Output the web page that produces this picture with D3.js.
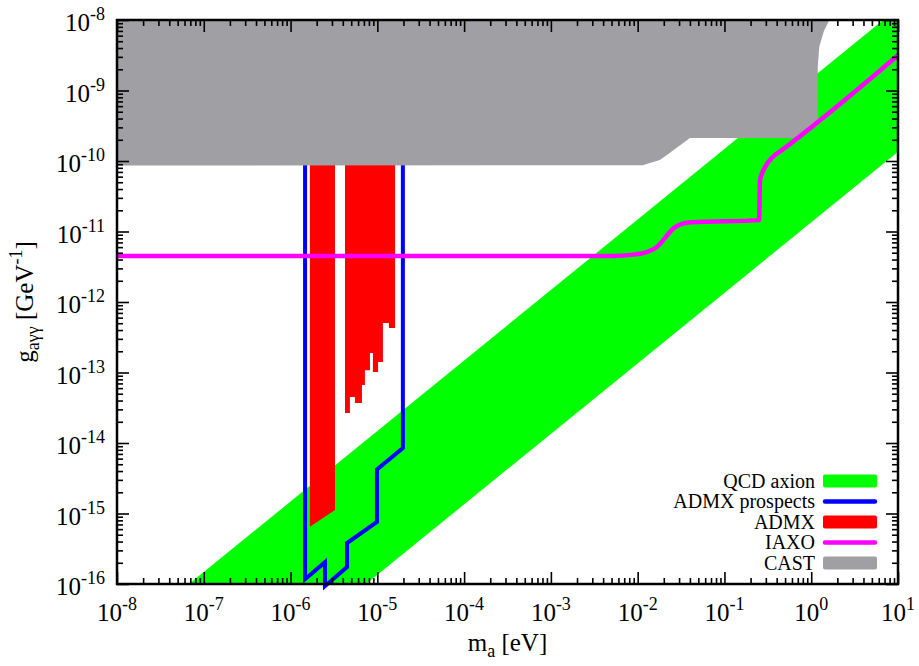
<!DOCTYPE html>
<html>
<head>
<meta charset="utf-8">
<script src="https://cdn.jsdelivr.net/npm/d3@7"></script>
<style>
  body { margin: 0; background: #fff; }
  svg { display: block; }
  text { font-family: "Liberation Serif", "Times New Roman", serif; fill: #000; }
</style>
</head>
<body>
<svg id="chart" width="919" height="666"></svg>
<script>
// ---- axion parameter space: mass m_a [eV] vs coupling g_aγγ [GeV^-1] ----

// Tick decades (exponents of 10)
const xTickExponents = [-8, -7, -6, -5, -4, -3, -2, -1, 0, 1];
const yTickExponents = [-16, -15, -14, -13, -12, -11, -10, -9, -8];

// QCD axion band: straight lines in log-log (g proportional to m)
const qcdMass = [1e-8, 10];
const qcdLow  = [1.35e-19, 1.35e-10];
const qcdHigh = [1.48e-17, 1.48e-8];

// CAST exclusion outline (mass, coupling), closed along the top of the frame
const castMass = [1e-8, 1.15e-2, 1.38e-2, 1.8e-2, 2.17e-2, 4.0e-2, 0.685, 1.19, 1.19, 1.24, 1.4, 1.62, 1e-8];
const castG    = [8.6e-11, 8.7e-11, 9.4e-11, 1.03e-10, 1.22e-10, 2.12e-10, 2.12e-10, 3.68e-10, 2.2e-9, 4.2e-9, 7.0e-9, 1e-8, 1e-8];

// ADMX exclusion, low-mass band (bottom edge sloped)
const admx1Mass = [1.67e-6, 1.67e-6, 3.25e-6, 3.25e-6];
const admx1G    = [1e-9, 6.5e-16, 1.12e-15, 1e-9];

// ADMX exclusion, higher-mass band: step edges and the limit in each step
const admx2Edges = [4.24e-6, 4.83e-6, 5.52e-6, 6.65e-6, 7.19e-6, 8.22e-6, 8.89e-6, 1.02e-5, 1.16e-5, 1.36e-5, 1.6e-5];
const admx2Limit = [2.67e-14, 4.49e-14, 3.69e-14, 6.65e-14, 1.08e-13, 1.89e-13, 1.02e-13, 1.41e-13, 5.04e-13, 4.28e-13];
const admx2Top = 1e-9;

// ADMX prospects outline
const prospectMass = [1.47e-6, 1.47e-6, 2.49e-6, 2.49e-6, 4.47e-6, 4.47e-6, 9.9e-6, 9.9e-6, 1.97e-5, 1.97e-5];
const prospectG    = [1e-9, 1.17e-16, 2.04e-16, 9.3e-17, 1.74e-16, 3.8e-16, 7.6e-16, 4.2e-15, 8.5e-15, 1e-9];

// IAXO sensitivity curve
const iaxoMass = [1e-8, 5e-3, 8.9e-3, 1.26e-2, 1.58e-2, 2.7e-2, 3.3e-2, 4.2e-2, 0.251, 0.257, 0.292, 0.363, 0.468, 10];
const iaxoG    = [4.5e-12, 4.5e-12, 4.7e-12, 5.1e-12, 5.75e-12, 1.15e-11, 1.29e-11, 1.35e-11, 1.45e-11, 5.4e-11, 8.1e-11, 1.15e-10, 1.45e-10, 3.16e-9];

// Legend entries
const legendLabels = ["QCD axion", "ADMX prospects", "ADMX", "IAXO", "CAST"];
const legendKinds  = ["fill", "line", "fill", "line", "fill"];

const colors = {
  qcd: "#00ff00",
  prospects: "#0000ff",
  admx: "#ff0000",
  iaxo: "#ff00ff",
  cast: "#a09fa4"
};
const legendColors = [colors.qcd, colors.prospects, colors.admx, colors.iaxo, colors.cast];

// ---- layout ----
const plot = { left: 117, right: 898, top: 20, bottom: 584 };

const svg = d3.select("#chart");
const x = d3.scaleLog().domain([1e-8, 10]).range([plot.left, plot.right]);
const y = d3.scaleLog().domain([1e-16, 1e-8]).range([plot.bottom, plot.top]);

svg.append("defs").append("clipPath").attr("id", "plotClip")
  .append("rect")
  .attr("x", plot.left).attr("y", plot.top)
  .attr("width", plot.right - plot.left).attr("height", plot.bottom - plot.top);

// drawing layers, bottom to top
const layerBand = svg.append("g").attr("clip-path", "url(#plotClip)");
const layerAdmx = svg.append("g").attr("clip-path", "url(#plotClip)");
const layerProspects = svg.append("g");
const layerCast = svg.append("g").attr("clip-path", "url(#plotClip)");
const layerIaxo = svg.append("g").attr("clip-path", "url(#plotClip)");
const layerAxes = svg.append("g");

const zip = (ms, gs) => ms.map((m, i) => [x(m), y(gs[i])]);
const poly = d3.line();

// QCD band
const bandPts = zip(qcdMass, qcdHigh).concat(zip(qcdMass, qcdLow).reverse());
layerBand.append("path").attr("d", poly(bandPts) + "Z").attr("fill", colors.qcd);

// ADMX bands
layerAdmx.append("path").attr("d", poly(zip(admx1Mass, admx1G)) + "Z").attr("fill", colors.admx);
const stepPts = [[x(admx2Edges[0]), y(admx2Top)]];
admx2Limit.forEach((g, i) => {
  stepPts.push([x(admx2Edges[i]), y(g)]);
  stepPts.push([x(admx2Edges[i + 1]), y(g)]);
});
stepPts.push([x(admx2Edges[admx2Edges.length - 1]), y(admx2Top)]);
layerAdmx.append("path").attr("d", poly(stepPts) + "Z").attr("fill", colors.admx);

// ADMX prospects outline
layerProspects.append("path")
  .attr("d", poly(zip(prospectMass, prospectG)))
  .attr("fill", "none").attr("stroke", colors.prospects)
  .attr("stroke-width", 4).attr("stroke-linejoin", "miter");

// CAST exclusion
layerCast.append("path").attr("d", poly(zip(castMass, castG)) + "Z").attr("fill", colors.cast);

// IAXO curve
layerIaxo.append("path")
  .attr("d", d3.line().curve(d3.curveMonotoneX)(zip(iaxoMass, iaxoG)))
  .attr("fill", "none").attr("stroke", colors.iaxo).attr("stroke-width", 4.5);

// ---- axes: inward ticks on all four sides ----
const xMajor = xTickExponents.map(e => Math.pow(10, e));
const yMajor = yTickExponents.map(e => Math.pow(10, e));
const minorOf = majors => {
  const out = [];
  majors.slice(0, -1).forEach(v => { for (let j = 2; j <= 9; j++) out.push(j * v); });
  return out;
};
const xMinor = minorOf(xMajor);
const yMinor = minorOf(yMajor);

function addAxis(axisFn, scale, values, size, transform) {
  const g = layerAxes.append("g").attr("transform", transform)
    .call(axisFn(scale).tickValues(values).tickSize(size).tickFormat(""));
  g.select(".domain").remove();
  g.selectAll(".tick line").attr("stroke", "#000").attr("stroke-width", 1.6);
}
addAxis(d3.axisBottom, x, xMajor, -12, `translate(0,${plot.bottom})`);
addAxis(d3.axisBottom, x, xMinor, -6, `translate(0,${plot.bottom})`);
addAxis(d3.axisTop, x, xMajor, -12, `translate(0,${plot.top})`);
addAxis(d3.axisTop, x, xMinor, -6, `translate(0,${plot.top})`);
addAxis(d3.axisLeft, y, yMajor, -12, `translate(${plot.left},0)`);
addAxis(d3.axisLeft, y, yMinor, -6, `translate(${plot.left},0)`);
addAxis(d3.axisRight, y, yMajor, -12, `translate(${plot.right},0)`);
addAxis(d3.axisRight, y, yMinor, -6, `translate(${plot.right},0)`);

layerAxes.append("rect")
  .attr("x", plot.left).attr("y", plot.top)
  .attr("width", plot.right - plot.left).attr("height", plot.bottom - plot.top)
  .attr("fill", "none").attr("stroke", "#000").attr("stroke-width", 2.5);

// tick labels of the form 10^n
function powerLabel(sel, exp) {
  sel.append("tspan").text("10");
  sel.append("tspan").attr("dy", -11).attr("font-size", 18).text(String(exp));
}
xTickExponents.forEach(e => {
  layerAxes.append("text")
    .attr("x", x(Math.pow(10, e))).attr("y", 621)
    .attr("text-anchor", "middle").attr("font-size", 25)
    .call(powerLabel, e);
});
yTickExponents.forEach(e => {
  layerAxes.append("text")
    .attr("x", 105).attr("y", y(Math.pow(10, e)) + 11)
    .attr("text-anchor", "end").attr("font-size", 25)
    .call(powerLabel, e);
});

// axis titles
const xTitle = layerAxes.append("text")
  .attr("x", (plot.left + plot.right) / 2).attr("y", 651)
  .attr("text-anchor", "middle").attr("font-size", 25);
xTitle.append("tspan").text("m");
xTitle.append("tspan").attr("dy", 6).attr("font-size", 18).text("a");
xTitle.append("tspan").attr("dy", -6).text(" [eV]");

const yTitle = layerAxes.append("text")
  .attr("transform", `translate(33,${(plot.top + plot.bottom) / 2}) rotate(-90)`)
  .attr("text-anchor", "middle").attr("font-size", 25);
yTitle.append("tspan").text("g");
yTitle.append("tspan").attr("dy", 6).attr("font-size", 18).text("aγγ");
yTitle.append("tspan").attr("dy", -6).text(" [GeV");
yTitle.append("tspan").attr("dy", -11).attr("font-size", 18).text("-1");
yTitle.append("tspan").attr("dy", 11).text("]");

// legend
const legend = layerAxes.append("g");
legendLabels.forEach((label, i) => {
  const cy = 481 + i * 20.5;
  legend.append("text")
    .attr("x", 815).attr("y", cy + 6.5)
    .attr("text-anchor", "end").attr("font-size", 20)
    .text(label);
  if (legendKinds[i] === "fill") {
    legend.append("rect")
      .attr("x", 823).attr("y", cy - 6.5).attr("width", 54).attr("height", 13)
      .attr("rx", 2).attr("fill", legendColors[i]);
  } else {
    legend.append("line")
      .attr("x1", 825).attr("x2", 875).attr("y1", cy).attr("y2", cy)
      .attr("stroke", legendColors[i]).attr("stroke-width", 4.5)
      .attr("stroke-linecap", "round");
  }
});
</script>
</body>
</html>
